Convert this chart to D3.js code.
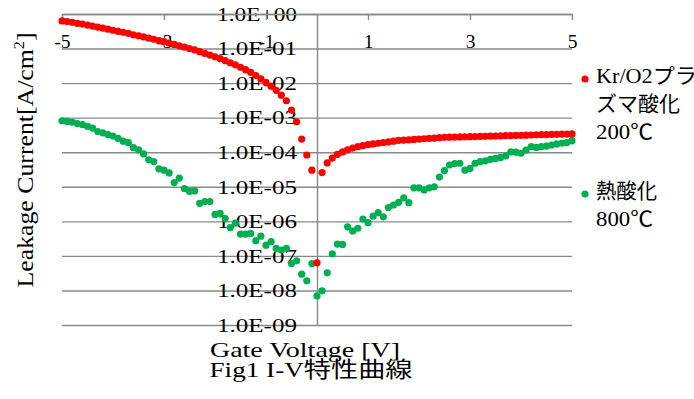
<!DOCTYPE html>
<html>
<head>
<meta charset="utf-8">
<script src="https://cdn.jsdelivr.net/npm/d3@7"></script>
<style>
  body { margin: 0; background: #fff; }
  svg { display: block; }
  text { font-family: 'Liberation Serif', 'Noto Sans CJK JP', serif; fill: #000; }
</style>
</head>
<body>
<svg id="chart"></svg>
<script>
// gate voltage sweep [V]
const voltage = [
  -5.0, -4.9, -4.8, -4.7, -4.6, -4.5, -4.4, -4.3, -4.2, -4.1,
  -4.0, -3.9, -3.8, -3.7, -3.6, -3.5, -3.4, -3.3, -3.2, -3.1,
  -3.0, -2.9, -2.8, -2.7, -2.6, -2.5, -2.4, -2.3, -2.2, -2.1,
  -2.0, -1.9, -1.8, -1.7, -1.6, -1.5, -1.4, -1.3, -1.2, -1.1,
  -1.0, -0.9, -0.8, -0.7, -0.6, -0.5, -0.4, -0.3, -0.2, -0.1,
  0.0, 0.1, 0.2, 0.3, 0.4, 0.5, 0.6, 0.7, 0.8, 0.9,
  1.0, 1.1, 1.2, 1.3, 1.4, 1.5, 1.6, 1.7, 1.8, 1.9,
  2.0, 2.1, 2.2, 2.3, 2.4, 2.5, 2.6, 2.7, 2.8, 2.9,
  3.0, 3.1, 3.2, 3.3, 3.4, 3.5, 3.6, 3.7, 3.8, 3.9,
  4.0, 4.1, 4.2, 4.3, 4.4, 4.5, 4.6, 4.7, 4.8, 4.9,
  5.0
];

// Kr/O2 plasma oxidation 200C, leakage current [A/cm2]
const plasmaOx = [
  6.31e-1, 6.03e-1, 5.75e-1, 5.37e-1, 5.13e-1, 4.79e-1, 4.47e-1, 4.17e-1, 3.89e-1, 3.63e-1,
  3.39e-1, 3.16e-1, 2.95e-1, 2.75e-1, 2.51e-1, 2.34e-1, 2.19e-1, 2.00e-1, 1.86e-1, 1.70e-1,
  1.58e-1, 1.45e-1, 1.32e-1, 1.20e-1, 1.10e-1, 1.00e-1, 9.12e-2, 8.13e-2, 7.24e-2, 6.46e-2,
  5.75e-2, 5.13e-2, 4.47e-2, 3.89e-2, 3.39e-2, 2.88e-2, 2.45e-2, 2.04e-2, 1.66e-2, 1.32e-2,
  1.05e-2, 8.13e-3, 6.17e-3, 4.47e-3, 3.09e-3, 1.66e-3, 7.59e-4, 2.40e-4, 8.32e-5, 3.02e-5,
  6.31e-8, 2.57e-5, 4.90e-5, 6.76e-5, 8.71e-5, 1.02e-4, 1.17e-4, 1.32e-4, 1.45e-4, 1.55e-4,
  1.66e-4, 1.74e-4, 1.82e-4, 1.91e-4, 2.00e-4, 2.09e-4, 2.19e-4, 2.24e-4, 2.29e-4, 2.34e-4,
  2.40e-4, 2.45e-4, 2.51e-4, 2.57e-4, 2.63e-4, 2.69e-4, 2.72e-4, 2.74e-4, 2.77e-4, 2.79e-4,
  2.82e-4, 2.84e-4, 2.87e-4, 2.90e-4, 2.92e-4, 2.95e-4, 2.98e-4, 3.01e-4, 3.03e-4, 3.06e-4,
  3.09e-4, 3.12e-4, 3.15e-4, 3.18e-4, 3.21e-4, 3.24e-4, 3.27e-4, 3.30e-4, 3.33e-4, 3.36e-4,
  3.39e-4
];

// thermal oxidation 800C, leakage current [A/cm2]
const thermalOx = [
  8.13e-4, 7.76e-4, 7.41e-4, 6.76e-4, 6.31e-4, 5.62e-4, 5.01e-4, 3.98e-4, 3.63e-4, 3.24e-4,
  2.95e-4, 2.51e-4, 2.09e-4, 1.91e-4, 1.35e-4, 1.17e-4, 8.91e-5, 6.03e-5, 5.37e-5, 3.31e-5,
  3.02e-5, 2.51e-5, 1.32e-5, 1.78e-5, 8.91e-6, 7.41e-6, 7.59e-6, 3.31e-6, 3.72e-6, 3.72e-6,
  1.58e-6, 1.70e-6, 1.20e-6, 6.61e-7, 8.91e-7, 4.27e-7, 4.27e-7, 4.47e-7, 2.75e-7, 3.72e-7,
  2.04e-7, 2.57e-7, 1.66e-7, 1.48e-7, 1.66e-7, 6.03e-8, 7.24e-8, 2.95e-8, 1.91e-8, 6.03e-8,
  6.92e-9, 9.77e-9, 3.24e-8, 1.15e-7, 2.19e-7, 2.14e-7, 6.92e-7, 5.25e-7, 6.31e-7, 1.17e-6,
  9.12e-7, 1.41e-6, 1.78e-6, 1.35e-6, 2.51e-6, 2.95e-6, 3.55e-6, 4.79e-6, 3.47e-6, 9.33e-6,
  9.33e-6, 8.13e-6, 9.33e-6, 1.00e-5, 1.91e-5, 2.95e-5, 4.27e-5, 4.68e-5, 4.79e-5, 3.02e-5,
  3.39e-5, 4.79e-5, 5.37e-5, 5.62e-5, 6.17e-5, 6.61e-5, 7.08e-5, 7.76e-5, 1.02e-4, 1.00e-4,
  9.33e-5, 1.15e-4, 1.45e-4, 1.38e-4, 1.45e-4, 1.51e-4, 1.62e-4, 1.74e-4, 1.82e-4, 1.91e-4,
  2.14e-4
];

const xTicks = [-5, -3, -1, 1, 3, 5];
const yTicks = [1e0, 1e-1, 1e-2, 1e-3, 1e-4, 1e-5, 1e-6, 1e-7, 1e-8, 1e-9];
const legendLines = [
  ['Kr/O2プラ', 'ズマ酸化', '200℃'],
  ['熱酸化', '800℃']
];
const seriesColours = ['#ff0000', '#00b050'];

const width = 694, height = 399;
const plot = { left: 62, right: 572, top: 14, bottom: 325 };
const gridColour = '#898989';

const svg = d3.select('#chart')
  .attr('width', width)
  .attr('height', height);

const x = d3.scaleLinear()
  .domain([-5, 5])
  .range([plot.left, plot.right]);

const y = d3.scaleLog()
  .domain([1e0, 1e-9])
  .range([plot.top, plot.bottom]);

// horizontal gridlines, one per decade
svg.append('g')
  .attr('transform', `translate(${plot.left},0)`)
  .call(d3.axisRight(y).tickValues(yTicks).tickSize(plot.right - plot.left).tickFormat(''))
  .call(g => g.select('.domain').remove())
  .call(g => g.selectAll('line').attr('stroke', gridColour).attr('stroke-width', 1.4));

// vertical axis at 0 V with the decade labels on its left
const yAxisG = svg.append('g')
  .attr('transform', `translate(${x(0)},0)`)
  .call(d3.axisLeft(y)
    .tickValues(yTicks)
    .tickSize(0)
    .tickPadding(20)
    .tickFormat(d => {
      const e = Math.round(Math.log10(d));
      return '1.0E' + (e < 0 ? '-' : '+') + String(Math.abs(e)).padStart(2, '0');
    }));
yAxisG.select('.domain').attr('stroke', gridColour).attr('stroke-width', 1.4);
yAxisG.selectAll('text')
  .attr('font-family', null)
  .attr('font-size', 19.5)
  .attr('fill', '#000')
  .attr('textLength', 80)
  .attr('lengthAdjust', 'spacingAndGlyphs');

// gate voltage axis along the top
const xAxisG = svg.append('g')
  .attr('transform', `translate(0,${plot.top})`)
  .call(d3.axisBottom(x)
    .tickValues(xTicks)
    .tickSize(6)
    .tickSizeOuter(0)
    .tickPadding(14)
    .tickFormat(d => String(d)));
xAxisG.select('.domain').attr('stroke', gridColour).attr('stroke-width', 1.4);
xAxisG.selectAll('line').attr('stroke', gridColour).attr('stroke-width', 1.4);
xAxisG.selectAll('text')
  .attr('font-family', null)
  .attr('font-size', 19.5)
  .attr('fill', '#000');

// series
const series = [thermalOx, plasmaOx];
const colours = [seriesColours[1], seriesColours[0]];
series.forEach((values, i) => {
  svg.append('g')
    .selectAll('circle')
    .data(values)
    .join('circle')
    .attr('cx', (d, j) => x(voltage[j]))
    .attr('cy', d => y(d))
    .attr('r', 3.6)
    .attr('fill', colours[i]);
});

// axis titles
svg.append('text')
  .attr('transform', 'translate(33,160) rotate(-90)')
  .attr('text-anchor', 'middle')
  .attr('font-size', 24)
  .attr('textLength', 255)
  .attr('lengthAdjust', 'spacingAndGlyphs')
  .call(t => {
    t.append('tspan').text('Leakage Current[A/cm');
    t.append('tspan').attr('dy', -9).attr('font-size', 15).text('2');
    t.append('tspan').attr('dy', 9).text(']');
  });

svg.append('text')
  .attr('x', 305)
  .attr('y', 357)
  .attr('text-anchor', 'middle')
  .attr('font-size', 22)
  .attr('textLength', 190)
  .attr('lengthAdjust', 'spacingAndGlyphs')
  .text('Gate Voltage [V]');

svg.append('text')
  .attr('x', 311)
  .attr('y', 377)
  .attr('text-anchor', 'middle')
  .attr('font-size', 22)
  .attr('textLength', 203)
  .attr('lengthAdjust', 'spacingAndGlyphs')
  .text('Fig1 I-V特性曲線');

// legend
const legendTop = [83, 198];
const legendWidths = [[101, 84, 57], [61, 57]];
legendLines.forEach((lines, i) => {
  const g = svg.append('g');
  g.append('circle')
    .attr('cx', 585)
    .attr('cy', legendTop[i] - 4)
    .attr('r', 3.6)
    .attr('fill', seriesColours[i]);
  lines.forEach((line, k) => {
    g.append('text')
      .attr('x', 596)
      .attr('y', legendTop[i] + k * 28)
      .attr('font-size', 21)
      .attr('textLength', legendWidths[i][k])
      .attr('lengthAdjust', 'spacingAndGlyphs')
      .text(line);
  });
});
</script>
</body>
</html>
